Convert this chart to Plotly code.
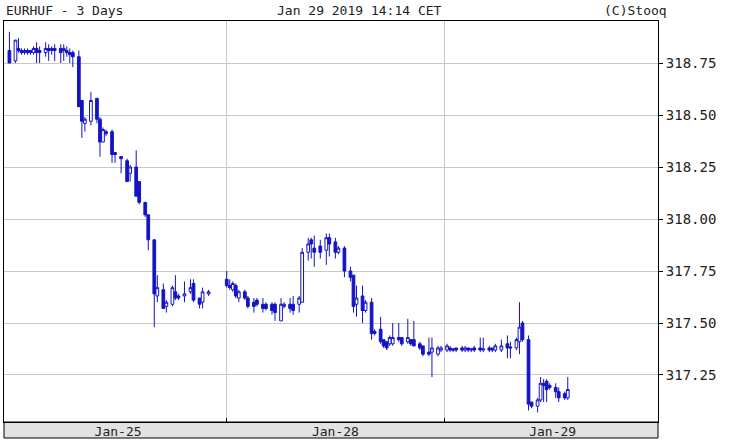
import plotly.graph_objects as go

BLUE = "#1414c4"
GRID = "#c8c8c8"
FONT = "DejaVu Sans Mono"

# 20-minute bars (weekend removed by a rangebreak)
jan25_times = [
    "00:00", "00:40", "01:00", "01:20", "01:40", "02:00", "02:20", "02:40", "03:00", "03:20",
    "04:00", "04:20", "04:40", "05:00", "05:40", "06:00", "06:20", "06:40", "07:00", "07:40",
    "08:00", "08:20", "09:00", "09:40", "10:00", "10:20", "10:40", "11:20", "11:40", "12:20",
    "13:00", "13:20", "14:00", "14:20", "15:00", "15:20", "16:00", "16:20", "17:00", "17:20",
    "18:00", "18:20", "18:40", "19:20", "20:00", "20:20", "21:00", "21:20", "22:00",
]
jan28_times = [
    "00:00", "00:20", "00:40", "01:00", "01:20", "02:00", "02:20", "03:00", "03:20", "04:00",
    "04:20", "05:00", "05:20", "06:00", "06:20", "07:00", "07:20", "08:00", "08:20", "09:00",
    "09:20", "09:40", "10:20", "11:00", "11:20", "12:00", "12:20", "13:00", "13:40", "14:00",
    "14:20", "15:00", "15:20", "16:00", "16:20", "17:00", "17:20", "17:40", "18:00", "18:20",
    "19:00", "19:20", "20:00", "20:20", "20:40", "21:20", "21:40", "22:20", "22:40", "23:20",
    "23:40",
]
jan29_times = [
    "00:20", "00:40", "01:00", "01:20", "02:00", "02:20", "02:40", "03:00", "03:20", "04:00",
    "04:20", "05:00", "05:20", "05:40", "06:20", "07:00", "07:20", "08:00", "08:20", "08:40",
    "09:20", "09:40", "10:20", "10:40", "11:00", "11:20", "11:40", "12:20", "12:40", "13:20",
    "13:40",
]

opens = [
    # Jan 25
    318.81, 318.76, 318.82, 318.81, 318.80, 318.81, 318.81, 318.80, 318.82, 318.81,
    318.80, 318.82, 318.81, 318.82, 318.82, 318.81, 318.81, 318.80, 318.80, 318.78,
    318.57, 318.46, 318.47, 318.58, 318.48, 318.37, 318.42, 318.42, 318.32, 318.30,
    318.28, 318.22, 318.25, 318.18, 318.08, 318.02, 317.90, 317.63, 317.66, 317.58,
    317.59, 317.65, 317.63, 317.63, 317.65, 317.69, 317.62, 317.60, 317.64,
    # Jan 28
    317.71, 317.68, 317.66, 317.68, 317.62, 317.65, 317.62, 317.60, 317.61, 317.59,
    317.59, 317.59, 317.59, 317.51, 317.58, 317.59, 317.59, 317.59, 317.60, 317.84,
    317.90, 317.86, 317.87, 317.85, 317.91, 317.89, 317.84, 317.86, 317.75, 317.73,
    317.59, 317.63, 317.56, 317.60, 317.46, 317.47, 317.42, 317.41, 317.40, 317.40,
    317.43, 317.43, 317.41, 317.42, 317.42, 317.40, 317.39, 317.36, 317.36, 317.35,
    317.37,
    # Jan 29
    317.37, 317.38, 317.375, 317.38, 317.38, 317.37, 317.38, 317.37, 317.38, 317.38,
    317.37, 317.38, 317.38, 317.37, 317.37, 317.40, 317.385, 317.38, 317.41, 317.50,
    317.42, 317.12, 317.10, 317.13, 317.21, 317.22, 317.20, 317.19, 317.17, 317.16,
    317.14,
]
highs = [
    318.90, 318.86, 318.87, 318.82, 318.82, 318.82, 318.81, 318.83, 318.85, 318.83,
    318.85, 318.84, 318.83, 318.84, 318.84, 318.84, 318.83, 318.82, 318.81, 318.81,
    318.57, 318.49, 318.61, 318.58, 318.49, 318.44, 318.43, 318.43, 318.32, 318.30,
    318.29, 318.26, 318.33, 318.18, 318.08, 318.02, 317.90, 317.73, 317.69, 317.61,
    317.68, 317.73, 317.64, 317.70, 317.71, 317.71, 317.62, 317.67, 317.66,
    317.75, 317.71, 317.70, 317.69, 317.66, 317.66, 317.63, 317.62, 317.62, 317.62,
    317.60, 317.60, 317.60, 317.62, 317.60, 317.62, 317.63, 317.63, 317.86, 317.91,
    317.91, 317.92, 317.90, 317.93, 317.93, 317.91, 317.87, 317.87, 317.77, 317.73,
    317.68, 317.68, 317.61, 317.62, 317.47, 317.53, 317.42, 317.41, 317.44, 317.50,
    317.50, 317.43, 317.52, 317.42, 317.51, 317.41, 317.39, 317.43, 317.43, 317.39,
    317.39,
    317.40, 317.39, 317.38, 317.38, 317.39, 317.39, 317.38, 317.38, 317.39, 317.43,
    317.43, 317.39, 317.38, 317.40, 317.42, 317.44, 317.41, 317.43, 317.60, 317.51,
    317.44, 317.12, 317.14, 317.24, 317.23, 317.23, 317.21, 317.21, 317.19, 317.17,
    317.24,
]
lows = [
    318.75, 318.75, 318.80, 318.79, 318.79, 318.79, 318.79, 318.79, 318.75, 318.75,
    318.78, 318.76, 318.79, 318.76, 318.75, 318.76, 318.78, 318.75, 318.73, 318.54,
    318.39, 318.42, 318.45, 318.46, 318.30, 318.37, 318.40, 318.27, 318.27, 318.22,
    318.18, 318.18, 318.11, 318.07, 318.01, 317.85, 317.48, 317.60, 317.57, 317.55,
    317.58, 317.61, 317.61, 317.60, 317.64, 317.60, 317.57, 317.57, 317.63,
    317.67, 317.66, 317.65, 317.62, 317.60, 317.61, 317.57, 317.55, 317.58, 317.55,
    317.56, 317.54, 317.51, 317.51, 317.57, 317.55, 317.54, 317.55, 317.60, 317.80,
    317.81, 317.77, 317.81, 317.78, 317.82, 317.81, 317.83, 317.72, 317.70, 317.55,
    317.53, 317.50, 317.55, 317.42, 317.44, 317.40, 317.38, 317.37, 317.39, 317.39,
    317.41, 317.39, 317.40, 317.39, 317.39, 317.37, 317.34, 317.34, 317.24, 317.34,
    317.36,
    317.36, 317.36, 317.36, 317.36, 317.36, 317.36, 317.36, 317.36, 317.36, 317.36,
    317.36, 317.36, 317.36, 317.36, 317.36, 317.33, 317.33, 317.37, 317.35, 317.41,
    317.08, 317.09, 317.07, 317.12, 317.12, 317.12, 317.18, 317.14, 317.12, 317.13,
    317.13,
]
closes = [
    318.75, 318.86, 318.81, 318.80, 318.81, 318.80, 318.80, 318.82, 318.80, 318.80,
    318.82, 318.81, 318.82, 318.81, 318.80, 318.82, 318.80, 318.79, 318.78, 318.54,
    318.47, 318.48, 318.57, 318.48, 318.37, 318.43, 318.41, 318.31, 318.31, 318.29,
    318.18, 318.25, 318.11, 318.08, 318.02, 317.90, 317.64, 317.67, 317.57, 317.60,
    317.67, 317.62, 317.62, 317.64, 317.67, 317.61, 317.59, 317.65, 317.65,
    317.68, 317.67, 317.69, 317.63, 317.65, 317.62, 317.58, 317.58, 317.59, 317.57,
    317.57, 317.56, 317.55, 317.59, 317.59, 317.57, 317.56, 317.62, 317.84, 317.88,
    317.88, 317.84, 317.84, 317.91, 317.88, 317.84, 317.86, 317.75, 317.72, 317.58,
    317.62, 317.56, 317.60, 317.45, 317.45, 317.41, 317.39, 317.38, 317.43, 317.43,
    317.42, 317.40, 317.43, 317.40, 317.39, 317.38, 317.35, 317.35, 317.38, 317.38,
    317.38,
    317.39, 317.37, 317.37, 317.37, 317.37, 317.38, 317.37, 317.375, 317.37, 317.37,
    317.375, 317.37, 317.37, 317.39, 317.39, 317.38, 317.38, 317.42, 317.48, 317.42,
    317.11, 317.10, 317.13, 317.21, 317.20, 317.18, 317.19, 317.17, 317.14, 317.14,
    317.18,
]

times = (
    ["2019-01-25 " + t for t in jan25_times]
    + ["2019-01-28 " + t for t in jan28_times]
    + ["2019-01-29 " + t for t in jan29_times]
)

day_ticks = ["2019-01-25 12:00", "2019-01-28 12:00", "2019-01-29 12:00"]
day_labels = ["Jan-25", "Jan-28", "Jan-29"]
day_starts = ["2019-01-28 00:00", "2019-01-29 00:00"]
price_ticks = [317.25, 317.50, 317.75, 318.00, 318.25, 318.50, 318.75]

fig = go.Figure(
    go.Candlestick(
        x=times,
        open=opens,
        high=highs,
        low=lows,
        close=closes,
        whiskerwidth=0,
        increasing=dict(line=dict(color=BLUE, width=1), fillcolor="white"),
        decreasing=dict(line=dict(color=BLUE, width=1), fillcolor=BLUE),
        showlegend=False,
        hoverinfo="x+y",
    )
)

# grey date band under the plot, like the Stooq footer strip
fig.add_shape(
    type="rect", xref="paper", yref="paper",
    x0=0, x1=1, y0=-16 / 401, y1=0,
    fillcolor="#e2e2e2", line=dict(color="black", width=1), layer="below",
)

header = dict(xref="paper", yref="paper", y=1 + 11 / 401, yanchor="middle",
              showarrow=False, font=dict(family=FONT, size=13, color="#222"))
fig.add_annotation(text="EURHUF - 3 Days", x=0, xanchor="left", **header)
fig.add_annotation(text="Jan 29 2019 14:14 CET", x=0.543, xanchor="center", **header)
fig.add_annotation(text="(C)Stooq", x=1.017, xanchor="right", **header)

fig.update_layout(
    width=730,
    height=442,
    margin=dict(l=4, r=72, t=21, b=20),
    paper_bgcolor="white",
    plot_bgcolor="white",
    font=dict(family=FONT, size=13, color="#222"),
    boxgap=0.0,
    boxgroupgap=0.1,
    xaxis=dict(
        type="date",
        range=["2019-01-24 23:24", "2019-01-29 23:38"],
        rangebreaks=[dict(bounds=["sat", "mon"])],
        rangeslider=dict(visible=False),
        tickmode="array",
        tickvals=day_ticks,
        ticktext=day_labels,
        ticks="",
        ticklabelstandoff=-3,
        showgrid=False,
        minor=dict(tickvals=day_starts, ticks="inside", ticklen=4, tickcolor="black",
                   showgrid=True, gridcolor=GRID, gridwidth=1),
        showline=True,
        mirror=True,
        linecolor="black",
        linewidth=1,
        tickfont=dict(family=FONT, size=13, color="#222"),
        zeroline=False,
    ),
    yaxis=dict(
        side="right",
        range=[317.024, 318.952],
        tickmode="array",
        tickvals=price_ticks,
        tickformat=".2f",
        ticks="outside",
        ticklen=4,
        tickcolor="black",
        showgrid=True,
        gridcolor=GRID,
        gridwidth=1,
        showline=True,
        mirror=True,
        linecolor="black",
        linewidth=1,
        tickfont=dict(family=FONT, size=14, color="#222"),
        zeroline=False,
    ),
)

# the page's default 8px body margin would shift the whole chart
fig.write_html(
    "out.html",
    config={"displayModeBar": False},
    post_script="document.body.style.margin = '0px';",
)
